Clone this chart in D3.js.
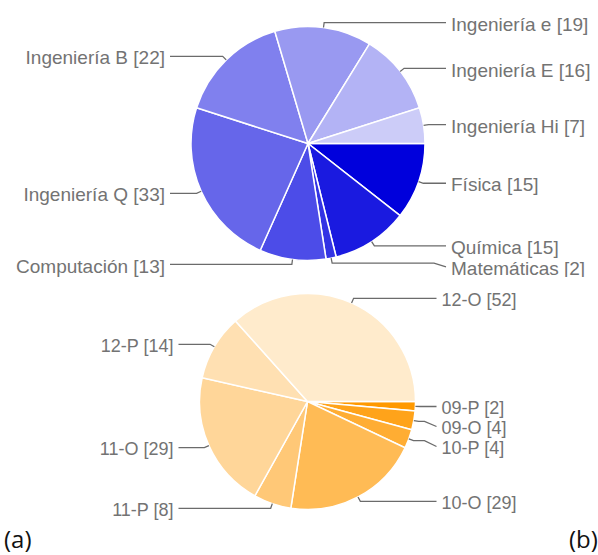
<!DOCTYPE html>
<html>
<head>
<meta charset="utf-8">
<script src="https://cdn.jsdelivr.net/npm/d3@7"></script>
<style>
    body { margin: 0; background: #fff; }
    .label { font-family: "Liberation Sans", Arial, sans-serif; fill: #737373; }
    .leader { fill: none; stroke: #6b6b6b; stroke-width: 1.3; }
    .caption { font-family: "Open Sans", "Noto Sans", sans-serif; font-size: 24px; fill: #111; }
</style>
</head>
<body>
<svg id="chart" width="598" height="555"></svg>
<script>
// (a) faculties
var topLabels = ['Física', 'Química', 'Matemáticas', 'Computación', 'Ingeniería Q',
                 'Ingeniería B', 'Ingeniería e', 'Ingeniería E', 'Ingeniería Hi'];
var topValues = [15, 15, 2, 13, 33, 22, 19, 16, 7];

// (b) groups
var bottomLabels = ['09-P', '09-O', '10-P', '10-O', '11-P', '11-O', '12-P', '12-O'];
var bottomValues = [2, 4, 4, 29, 8, 29, 14, 52];

var blues = ['#0000dc', '#1a1ae0', '#3333e4', '#4c4ce8', '#6666ea',
             '#8080ee', '#9999f1', '#b3b3f5', '#ccccf8'];
var oranges = ['#ff9900', '#ffa31a', '#ffad33', '#ffbb55', '#ffc877',
               '#ffd699', '#ffe0b2', '#ffebcc'];

var svg = d3.select('#chart');

svg.append('defs').append('clipPath')
    .attr('id', 'clipTop')
    .append('rect')
    .attr('x', 0).attr('y', 0)
    .attr('width', 598).attr('height', 277);

function pieChart(g, labels, values, colors, opt) {
    var cx = opt.cx, cy = opt.cy, r = opt.r;
    var pie = d3.pie().sort(null)
        .startAngle(Math.PI / 2)
        .endAngle(Math.PI / 2 + 2 * Math.PI);
    var arc = d3.arc().innerRadius(0).outerRadius(r);
    var arcs = pie(values);

    var chart = g.append('g').attr('transform', 'translate(' + cx + ',' + cy + ')');

    chart.selectAll('path.slice')
        .data(arcs)
        .enter().append('path')
        .attr('class', 'slice')
        .attr('d', arc)
        .attr('fill', function(d, i) { return colors[i]; })
        .attr('stroke', '#fff')
        .attr('stroke-width', 1.5);

    function pt(a, rad) {
        return [rad * Math.sin(a), -rad * Math.cos(a)];
    }

    var items = arcs.map(function(d, i) {
        var a = (d.startAngle + d.endAngle) / 2;
        var p0 = pt(a, r), p1 = pt(a, r + 5);
        return {
            text: labels[i] + ' [' + values[i] + ']',
            p0: p0, p1: p1,
            right: p1[0] >= 0,
            y: p1[1]
        };
    });

    // push overlapping labels down on each side
    [true, false].forEach(function(side) {
        var list = items.filter(function(d) { return d.right === side; })
            .sort(function(a, b) { return a.y - b.y; });
        for (var k = 1; k < list.length; k++) {
            if (list[k].y - list[k - 1].y < opt.gap) list[k].y = list[k - 1].y + opt.gap;
        }
    });

    var textX = r + 26;
    var line = d3.line();

    chart.selectAll('path.leader')
        .data(items)
        .enter().append('path')
        .attr('class', 'leader')
        .attr('d', function(d) {
            var s = d.right ? 1 : -1;
            var xEnd = s * (textX - 5);
            return line([d.p0, d.p1, [xEnd - s * 12, d.p1[1]], [xEnd, d.y]]);
        });

    chart.selectAll('text.label')
        .data(items)
        .enter().append('text')
        .attr('class', 'label')
        .attr('x', function(d) { return d.right ? textX : -textX; })
        .attr('y', function(d) { return d.y; })
        .attr('dy', '0.43em')
        .attr('text-anchor', function(d) { return d.right ? 'start' : 'end'; })
        .style('font-size', opt.fontSize + 'px')
        .text(function(d) { return d.text; });
}

var gTop = svg.append('g').attr('clip-path', 'url(#clipTop)');
pieChart(gTop, topLabels, topValues, blues, { cx: 308, cy: 143.5, r: 117, gap: 21, fontSize: 19 });

var gBottom = svg.append('g');
pieChart(gBottom, bottomLabels, bottomValues, oranges, { cx: 307.5, cy: 401.5, r: 108, gap: 20, fontSize: 18 });

svg.append('text').attr('class', 'caption').attr('x', 4).attr('y', 548).text('(a)');
svg.append('text').attr('class', 'caption').attr('x', 569).attr('y', 548).text('(b)');
</script>
</body>
</html>
